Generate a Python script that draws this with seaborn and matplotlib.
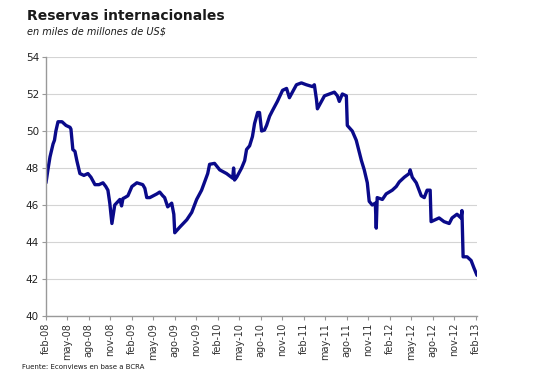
import pandas as pd
import matplotlib
matplotlib.use('Agg')
import matplotlib.pyplot as plt
import seaborn as sns

# Reservas internacionales, miles de millones de US$
fechas = [
    '2008-02-01', '2008-02-09', '2008-02-18', '2008-03-02', '2008-03-08', '2008-03-14', '2008-03-23',
    '2008-04-09', '2008-04-26', '2008-05-13', '2008-05-17', '2008-05-25', '2008-06-03',
    '2008-06-11', '2008-06-24', '2008-07-11', '2008-07-28', '2008-08-10', '2008-08-27',
    '2008-09-13', '2008-09-30', '2008-10-12', '2008-10-21', '2008-10-29', '2008-11-07',
    '2008-11-19', '2008-12-11', '2008-12-18', '2008-12-24', '2009-01-01', '2009-01-14',
    '2009-01-31', '2009-02-21',
    '2009-03-18', '2009-03-27', '2009-04-04', '2009-04-17', '2009-05-17', '2009-05-29',
    '2009-06-11', '2009-06-19', '2009-07-02', '2009-07-19', '2009-07-28', '2009-08-01',
    '2009-08-22', '2009-09-21', '2009-10-12', '2009-11-02', '2009-11-23', '2009-12-19',
    '2009-12-27', '2010-01-17', '2010-02-08', '2010-03-09', '2010-04-04', '2010-04-08',
    '2010-04-12',
    '2010-04-21', '2010-05-12', '2010-05-25', '2010-06-02', '2010-06-15', '2010-06-27',
    '2010-07-06', '2010-07-19', '2010-07-27', '2010-08-05', '2010-08-17', '2010-08-26',
    '2010-09-08', '2010-09-20', '2010-10-11', '2010-11-02', '2010-11-19', '2010-12-01',
    '2010-12-14', '2010-12-31', '2011-01-21', '2011-02-11', '2011-03-09', '2011-03-17',
    '2011-03-26', '2011-03-30', '2011-04-16', '2011-04-29', '2011-05-20', '2011-06-10',
    '2011-06-23', '2011-07-01', '2011-07-14', '2011-07-31', '2011-08-04', '2011-08-25',
    '2011-09-11', '2011-10-03', '2011-10-15', '2011-10-28', '2011-11-05', '2011-11-18',
    '2011-12-01', '2011-12-05', '2011-12-09', '2011-12-31', '2012-01-16', '2012-02-11',
    '2012-02-28', '2012-03-12', '2012-04-02', '2012-04-23', '2012-04-27', '2012-05-06',
    '2012-05-23', '2012-06-13', '2012-06-26', '2012-07-08', '2012-07-21', '2012-07-25',
    '2012-08-28', '2012-09-18', '2012-10-10', '2012-10-22', '2012-11-12', '2012-11-29',
    '2012-12-03', '2012-12-08', '2012-12-25', '2013-01-11', '2013-01-23', '2013-02-05',
]
reservas = [
    47.2, 47.9, 48.6, 49.3, 49.5, 50.0, 50.5,
    50.5, 50.3, 50.2, 50.1, 49.0, 48.9,
    48.4, 47.7, 47.6, 47.7, 47.5, 47.1,
    47.1, 47.2, 47.0, 46.8, 46.1, 45.0,
    46.0, 46.3, 45.95, 46.35, 46.4, 46.5,
    47.0, 47.2,
    47.1, 46.9, 46.4, 46.4, 46.6, 46.7,
    46.5, 46.4, 45.9, 46.1, 45.5, 44.5,
    44.8, 45.2, 45.6, 46.3, 46.8, 47.7,
    48.2, 48.25, 47.9, 47.7, 47.45, 48.0,
    47.35,
    47.5, 48.0, 48.4, 49.0, 49.2, 49.7,
    50.4, 51.0, 51.0, 50.0, 50.05, 50.3,
    50.8, 51.1, 51.6, 52.2, 52.3, 51.8,
    52.1, 52.5, 52.6, 52.5, 52.4, 52.5,
    51.7, 51.2, 51.6, 51.9, 52.0, 52.1,
    51.9, 51.6, 52.0, 51.9, 50.3, 50.0,
    49.5, 48.4, 47.9, 47.2, 46.2, 46.0,
    46.1, 44.75, 46.4, 46.3, 46.6, 46.8,
    47.0, 47.25, 47.5, 47.7, 47.9, 47.5,
    47.2, 46.5, 46.4, 46.8, 46.8, 45.1,
    45.3, 45.1, 45.0, 45.3, 45.5, 45.3,
    45.7, 43.2, 43.2, 43.0, 42.6, 42.2,
]

tick_fechas = pd.date_range('2008-02-01', '2013-02-01', freq='3MS')
tick_labels = ['feb-08', 'may-08', 'ago-08', 'nov-08', 'feb-09', 'may-09', 'ago-09',
               'nov-09', 'feb-10', 'may-10', 'ago-10', 'nov-10', 'feb-11', 'may-11',
               'ago-11', 'nov-11', 'feb-12', 'may-12', 'ago-12', 'nov-12', 'feb-13']

df = pd.DataFrame({'fecha': pd.to_datetime(fechas), 'reservas': reservas})

sns.set_style('white')
plt.rcParams['font.family'] = ['DejaVu Sans']

fig = plt.figure(figsize=(5.33, 3.82), dpi=100)
ax = fig.add_axes([46 / 533, 66 / 382, 431 / 533, 259 / 382])

sns.lineplot(data=df, x='fecha', y='reservas', color='#0a0a8a', linewidth=2.4, ax=ax)

ax.set_xlim(pd.Timestamp('2008-02-01'), pd.Timestamp('2013-02-05'))
ax.set_ylim(40, 54)
ax.set_yticks(range(40, 55, 2))
ax.set_xticks(tick_fechas)
ax.set_xticklabels(tick_labels, rotation=90, fontsize=7, color='#333333')
ax.tick_params(axis='y', labelsize=7.5, colors='#222222', length=3, width=0.8,
               direction='out', left=True, pad=2)
ax.tick_params(axis='x', length=3, width=0.8, direction='out', bottom=True, pad=2,
               color='#999999')
ax.tick_params(axis='y', color='#999999')
ax.yaxis.grid(True, color='#d4d4d4', linewidth=0.8)
ax.set_axisbelow(True)
ax.set_xlabel('')
ax.set_ylabel('')

for side in ['top', 'right']:
    ax.spines[side].set_visible(False)
for side in ['left', 'bottom']:
    ax.spines[side].set_color('#999999')
    ax.spines[side].set_linewidth(1.0)

fig.text(27 / 533, 1 - 20 / 382, 'Reservas internacionales', fontsize=10,
         fontweight='bold', color='#1a1a1a')
fig.text(27 / 533, 1 - 34 / 382, 'en miles de millones de US$', fontsize=7,
         style='italic', color='#1a1a1a')
fig.text(22 / 533, 1 - 369 / 382, 'Fuente: Econviews en base a BCRA', fontsize=5,
         color='#1a1a1a')

fig.savefig('out.png', dpi=100)
